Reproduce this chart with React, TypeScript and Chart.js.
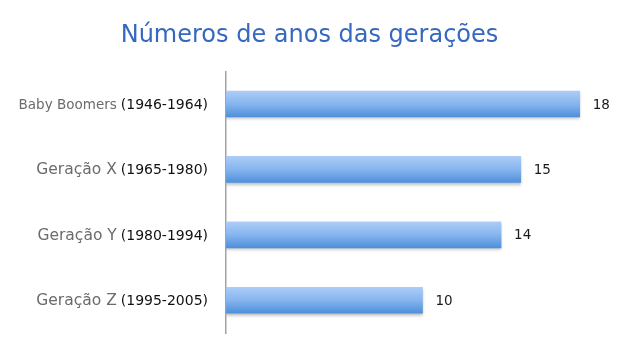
import React, { useEffect, useRef } from "react";
import { Chart, registerables } from "chart.js";

Chart.register(...registerables);

const generationNames = ["Baby Boomers", "Geração X", "Geração Y", "Geração Z"];
const generationRanges = ["(1946-1964)", "(1965-1980)", "(1980-1994)", "(1995-2005)"];
const yearCounts = [18, 15, 14, 10];
const chartTitle = "Números de anos das gerações";

const FONT = "'DejaVu Sans', Verdana, sans-serif";
const nameSizes = [13.5, 15.5, 15.5, 15.5];

export default function App() {
  const ref = useRef<HTMLCanvasElement | null>(null);

  useEffect(() => {
    const canvas = ref.current;
    if (!canvas) return;

    const labelPlugin = {
      id: "genLabels",
      beforeDatasetsDraw(chart: any) {
        const ctx = chart.ctx;
        ctx.save();
        ctx.shadowColor = "rgba(0,0,0,0.28)";
        ctx.shadowOffsetY = 2;
        ctx.shadowOffsetX = 0;
        ctx.shadowBlur = 3;
      },
      afterDatasetsDraw(chart: any) {
        const ctx = chart.ctx;
        ctx.restore();
        const meta = chart.getDatasetMeta(0);
        const ys = chart.scales.y;
        ctx.save();
        ctx.textBaseline = "middle";
        ctx.fillStyle = "#1a1a1a";
        ctx.font = `13.5px ${FONT}`;
        ctx.textAlign = "left";
        meta.data.forEach((bar: any, i: number) => {
          ctx.fillText(String(yearCounts[i]), bar.x + 13, bar.y + 1);
        });
        const rightX = ys.right - 18;
        generationNames.forEach((name, i) => {
          const y = ys.getPixelForValue(i) + 1;
          ctx.textAlign = "right";
          ctx.font = `14px ${FONT}`;
          ctx.fillStyle = "#111111";
          const range = generationRanges[i];
          ctx.fillText(range, rightX, y);
          const w = ctx.measureText(range).width;
          ctx.font = `${nameSizes[i]}px ${FONT}`;
          ctx.fillStyle = "#6b6b6b";
          ctx.fillText(name, rightX - w - 4, y);
        });
        ctx.restore();
      },
    };

    const chart = new Chart(canvas, {
      type: "bar",
      data: {
        labels: generationNames.map((n, i) => `${n} ${generationRanges[i]}`),
        datasets: [
          {
            data: yearCounts,
            barThickness: 26,
            borderWidth: 0,
            backgroundColor: (c: any) => {
              const ch = c.chart;
              const ys = ch.scales && ch.scales.y;
              if (!ys || c.dataIndex === undefined) return "#7aaef0";
              const cy = ys.getPixelForValue(c.dataIndex);
              if (!Number.isFinite(cy)) return "#7aaef0";
              const g = ch.ctx.createLinearGradient(0, cy - 13, 0, cy + 13);
              g.addColorStop(0, "#abcdf6");
              g.addColorStop(0.5, "#86b5ee");
              g.addColorStop(1, "#4f8fdb");
              return g;
            },
          },
        ],
      },
      options: {
        indexAxis: "y",
        animation: false,
        responsive: false,
        maintainAspectRatio: false,
        layout: { padding: { left: 0, right: 6, top: 0, bottom: 18 } },
        plugins: {
          legend: { display: false },
          tooltip: { enabled: false },
          title: {
            display: true,
            text: chartTitle,
            color: "#3768c0",
            font: { family: FONT, size: 24, weight: "normal", lineHeight: 1.2 },
            padding: { top: 21, bottom: 21.5 },
          },
        },
        scales: {
          x: {
            display: false,
            min: 0,
            max: 20,
          },
          y: {
            display: true,
            ticks: { display: false },
            grid: { display: false, drawTicks: false },
            border: { display: true, color: "#a3a3a3", width: 1.5 },
            afterFit: (s: any) => {
              s.width = 226;
            },
          },
        },
      },
      plugins: [labelPlugin],
    } as any);

    return () => chart.destroy();
  }, []);

  return (
    <div style={{ position: "fixed", left: 0, top: 0, width: 625, height: 351, background: "#fff" }}>
      <canvas ref={ref} width={625} height={351} style={{ display: "block" }} />
    </div>
  );
}
